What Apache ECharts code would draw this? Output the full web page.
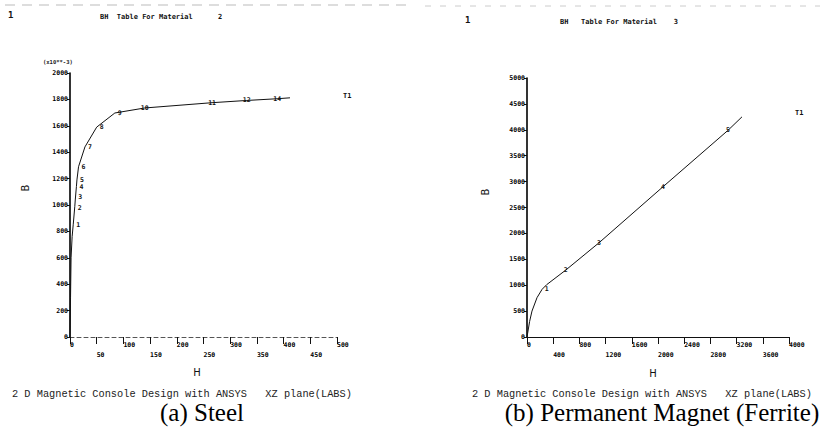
<!DOCTYPE html>
<html>
<head>
<meta charset="utf-8">
<script src="https://cdn.jsdelivr.net/npm/echarts@6/dist/echarts.min.js"></script>
<style>
html,body{margin:0;padding:0;background:#fff;}
#c{width:824px;height:434px;}
</style>
</head>
<body>
<div id="c"></div>
<script>
// ---- Data ----
// (a) Steel B-H curve (H, B in x10^-3 units)
const steelH = [0, 1, 2, 4, 6, 9, 10, 12, 13, 16, 28, 50, 84, 140, 266, 331, 388, 412];
const steelB = [0, 300, 600, 760, 850, 990, 1045, 1140, 1190, 1290, 1440, 1590, 1697, 1735, 1775, 1792, 1805, 1812];
const steelTags = ['', '', '', '', '1', '2', '3', '4', '5', '6', '7', '8', '9', '10', '11', '12', '14', ''];
// (b) Permanent magnet (ferrite) B-H curve
const magH = [0, 40, 76, 153, 230, 300, 590, 1100, 2076, 3069, 3282];
const magB = [0, 300, 500, 760, 920, 1010, 1290, 1820, 2900, 3990, 4250];
const magTags = ['', '', '', '', '', '1', '2', '3', '4', '5', ''];
// axis tick settings
const steelX = {min: 0, max: 500, interval: 50};
const steelY = {min: 0, max: 2000, interval: 200};
const magX = {min: 0, max: 4000, interval: 400};
const magY = {min: 0, max: 5000, interval: 500};

const chart = echarts.init(document.getElementById('c'), null, {renderer: 'svg'});
const MONO = '"DejaVu Sans Mono", "Liberation Mono", monospace';
const tickFont = {fontSize: 6.5, fontWeight: 'bold', fontFamily: MONO, color: '#000'};

function xAxisCfg(grid, r, dashed) {
  return {
    gridIndex: grid, type: 'value', min: r.min, max: r.max, interval: r.interval,
    axisLine: {onZero: false, lineStyle: {color: dashed ? '#555' : '#111', width: 1, type: dashed ? [4, 3] : 'solid'}},
    axisTick: {show: true, length: 7, lineStyle: {color: '#111', width: 1}},
    axisLabel: Object.assign({}, tickFont, {
      margin: 3, align: 'left', lineHeight: 10, verticalAlign: 'top',
      showMinLabel: true, showMaxLabel: true,
      formatter: (v, i) => (i % 2 ? '\n' + v : '' + v)
    }),
    splitLine: {show: false}
  };
}
function yAxisCfg(grid, r) {
  return {
    gridIndex: grid, type: 'value', min: r.min, max: r.max, interval: r.interval,
    axisLine: {onZero: false, lineStyle: {color: '#000', width: 1.6}},
    axisTick: {show: true, length: 3, lineStyle: {color: '#111'}},
    axisLabel: Object.assign({}, tickFont, {margin: 2, formatter: (v) => '' + v}),
    splitLine: {show: false}
  };
}
function buildData(H, B, tags, lblFn) {
  return H.map((h, i) => ({
    value: [h, B[i]],
    label: Object.assign({show: tags[i] !== '', formatter: tags[i]}, lblFn(i, tags[i]))
  }));
}
const lblStyle = {fontSize: 6.5, fontWeight: 'bold', fontFamily: MONO, color: '#111', distance: 3};

function steelLabel(i, t) {
  if (t === '2') return {position: 'right', offset: [0, 2]};
  if (t === '3') return {position: 'right', offset: [0, -2]};
  if (i >= 13) return {position: 'inside'};
  return {position: 'right'};
}
function magLabel(i, t) {
  return t === '1' ? {position: 'bottom', distance: 1} : {position: 'inside'};
}

const option = {
  animation: false,
  backgroundColor: '#fff',
  grid: [
    {left: 70, top: 73, width: 267, height: 264},
    {left: 527, top: 78, width: 262, height: 259}
  ],
  xAxis: [xAxisCfg(0, steelX, true), xAxisCfg(1, magX, false)],
  yAxis: [yAxisCfg(0, steelY), yAxisCfg(1, magY)],
  series: [
    {
      type: 'line', xAxisIndex: 0, yAxisIndex: 0,
      data: buildData(steelH, steelB, steelTags, steelLabel),
      symbol: 'circle', symbolSize: 0,
      lineStyle: {color: '#111', width: 1},
      itemStyle: {color: '#111'},
      label: lblStyle
    },
    {
      type: 'line', xAxisIndex: 1, yAxisIndex: 1,
      data: buildData(magH, magB, magTags, magLabel),
      symbol: 'circle', symbolSize: 0,
      lineStyle: {color: '#111', width: 1},
      itemStyle: {color: '#111'},
      label: lblStyle
    }
  ],
  graphic: [
    // faint scan residue at the very top
    {type: 'line', shape: {x1: 5, y1: 5, x2: 410, y2: 5}, style: {stroke: '#bbb', lineWidth: 1, lineDash: [10, 7]}},
    {type: 'line', shape: {x1: 425, y1: 6, x2: 820, y2: 6}, style: {stroke: '#ccc', lineWidth: 1, lineDash: [6, 9]}},
    // left header
    {type: 'text', left: 8, top: 10, style: {text: '1', font: 'bold 9px ' + MONO, fill: '#111'}},
    {type: 'text', left: 100, top: 13, style: {text: 'BH  Table For Material      2', font: 'bold 7px ' + MONO, fill: '#111'}},
    {type: 'text', left: 43, top: 59, style: {text: '(x10**-3)', font: 'bold 5.5px ' + MONO, fill: '#222'}},
    {type: 'text', left: 343, top: 92, style: {text: 'T1', font: 'bold 7px ' + MONO, fill: '#111'}},
    {type: 'text', x: 25, y: 188, rotation: Math.PI / 2, style: {text: 'B', font: '10px "DejaVu Sans"', fill: '#111', align: 'center', verticalAlign: 'middle'}},
    {type: 'text', x: 197, y: 372, style: {text: 'H', font: '10px "DejaVu Sans"', fill: '#111', align: 'center', verticalAlign: 'middle'}},
    {type: 'text', x: 12, y: 394, style: {text: '2 D Magnetic Console Design with ANSYS   XZ plane(LABS)', font: '10.3px "Liberation Mono"', fill: '#222', verticalAlign: 'middle'}},
    {type: 'text', x: 202, y: 412, style: {text: '(a) Steel', font: '25px "Liberation Serif"', fill: '#000', align: 'center', verticalAlign: 'middle'}},
    // right header
    {type: 'text', left: 465, top: 15, style: {text: '1', font: 'bold 9px ' + MONO, fill: '#111'}},
    {type: 'text', left: 560, top: 18, style: {text: 'BH   Table For Material    3', font: 'bold 7px ' + MONO, fill: '#111'}},
    {type: 'text', left: 795, top: 109, style: {text: 'T1', font: 'bold 7px ' + MONO, fill: '#111'}},
    {type: 'text', x: 485, y: 192, rotation: Math.PI / 2, style: {text: 'B', font: '10px "DejaVu Sans"', fill: '#111', align: 'center', verticalAlign: 'middle'}},
    {type: 'text', x: 653, y: 373, style: {text: 'H', font: '10px "DejaVu Sans"', fill: '#111', align: 'center', verticalAlign: 'middle'}},
    {type: 'text', x: 472, y: 394, style: {text: '2 D Magnetic Console Design with ANSYS   XZ plane(LABS)', font: '10.3px "Liberation Mono"', fill: '#222', verticalAlign: 'middle'}},
    {type: 'text', x: 662, y: 412, style: {text: '(b) Permanent Magnet (Ferrite)', font: '25px "Liberation Serif"', fill: '#000', align: 'center', verticalAlign: 'middle'}}
  ]
};
chart.setOption(option);
</script>
</body>
</html>
